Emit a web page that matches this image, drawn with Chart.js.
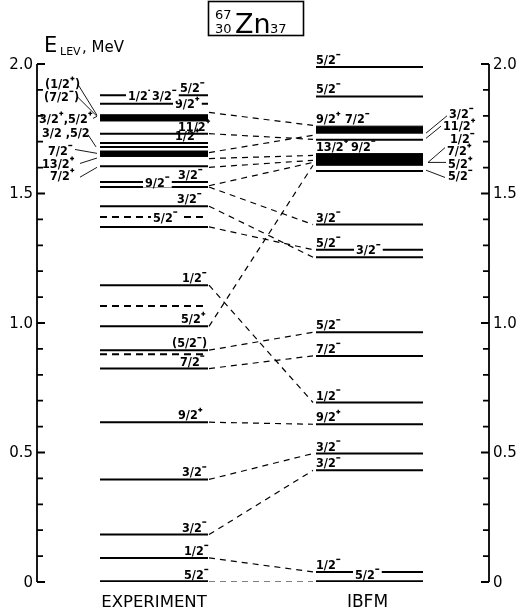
<!DOCTYPE html>
<html>
<head>
<meta charset="utf-8">
<script src="https://cdn.jsdelivr.net/npm/chart.js@4/dist/chart.umd.min.js"></script>
<style>
  html,body{margin:0;padding:0;background:#fff;}
  canvas{display:block;}
</style>
</head>
<body>
<canvas id="levels" width="524" height="613"></canvas>
<script>
/* ---------- level energies (MeV) ---------- */
const EXP_LEVELS   = [0, 0.093, 0.183, 0.396, 0.617, 0.824, 0.895, 0.987, 1.146, 1.371, 1.451, 1.525, 1.544, 1.605, 1.680, 1.695, 1.731, 1.847, 1.879];
const EXP_DASHED   = [0.879, 1.066, 1.409];
const EXP_BANDS    = [[1.780, 1.804]];
const EXP_DOTBANDS = [[1.643, 1.664]];

const IBFM_LEVELS  = [0, 0.039, 0.431, 0.496, 0.609, 0.693, 0.873, 0.964, 1.254, 1.283, 1.380, 1.587, 1.708, 1.875, 1.988];
const IBFM_BANDS   = [[1.609, 1.654], [1.733, 1.760]];

/* experiment -> IBFM correspondences [E exp, E ibfm] */
const LINKS = [
  [0, 0], [0.093, 0.039], [0.183, 0.431], [0.396, 0.496], [0.617, 0.609],
  [0.824, 0.873], [0.895, 0.964], [0.987, 1.609], [1.146, 0.693],
  [1.371, 1.283], [1.451, 1.254], [1.525, 1.380], [1.530, 1.620],
  [1.601, 1.628], [1.635, 1.647], [1.658, 1.725], [1.731, 1.709], [1.813, 1.763]
];

/* spin labels: [text, column, x offset in column, energy, inline?] */
const EXP_LABELS = [
  ["5/2-", 0, 84, 0], ["1/2-", 0, 84, 0.093], ["3/2-", 0, 82, 0.183], ["3/2-", 0, 82, 0.396],
  ["9/2+", 0, 78, 0.617], ["7/2-", 0, 80, 0.824], ["(5/2-)", 0, 72, 0.895], ["5/2+", 0, 81, 0.987],
  ["1/2-", 0, 82, 1.146], ["5/2-", 0, 53, 1.409, true], ["3/2-", 0, 77, 1.451],
  ["9/2-", 0, 45, 1.544, true], ["3/2-", 0, 78, 1.544], ["1/2+", 0, 75, 1.695],
  ["11/2+", 0, 78, 1.731], ["9/2+", 0, 75, 1.847, true],
  ["1/2-", 0, 28, 1.879, true], ["3/2-", 0, 52, 1.879, true], ["5/2-", 0, 80, 1.879]
];
const IBFM_LABELS = [
  ["5/2-", 1, 39, 0.03, true], ["1/2-", 1, 0, 0.039], ["3/2-", 1, 0, 0.431], ["3/2-", 1, 0, 0.496],
  ["9/2+", 1, 0, 0.609], ["1/2-", 1, 0, 0.693], ["7/2-", 1, 0, 0.873], ["5/2-", 1, 0, 0.964],
  ["5/2-", 1, 0, 1.283], ["3/2-", 1, 40, 1.283, true], ["3/2-", 1, 0, 1.380],
  ["13/2+", 1, 0, 1.654], ["9/2-", 1, 35, 1.654], ["9/2+", 1, 0, 1.760], ["7/2-", 1, 29, 1.760],
  ["5/2-", 1, 0, 1.875], ["5/2-", 1, 0, 1.988]
];

/* side labels: [text, x, energy of text centre] and leader lines [x1,E1,x2,E2] */
const LEFT_TAGS = [
  ["(1/2+)", 8, 1.925], ["(7/2-)", 7, 1.875], ["3/2+,5/2+", 2, 1.790],
  ["3/2 ,5/2", 5, 1.736], ["7/2-", 11, 1.666], ["13/2+", 5, 1.616], ["7/2+", 13, 1.570]
];
const LEFT_LEADERS = [
  [41, 1.921, 60, 1.802], [41, 1.871, 60, 1.798], [56, 1.790, 60, 1.798],
  [51, 1.727, 59, 1.680], [38, 1.670, 60, 1.655], [43, 1.616, 60, 1.637], [43, 1.563, 60, 1.601]
];
const RIGHT_TAGS = [
  ["3/2-", 412, 1.809], ["11/2+", 406, 1.763], ["1/2-", 413, 1.712],
  ["7/2+", 410, 1.666], ["5/2+", 411, 1.616], ["5/2-", 411, 1.570]
];
const RIGHT_LEADERS = [
  [410, 1.800, 389, 1.733], [404, 1.760, 389, 1.713], [408, 1.677, 391, 1.620],
  [409, 1.620, 391, 1.620], [408, 1.562, 389, 1.590]
];

const MAJOR_TICKS  = [0, 0.5, 1.0, 1.5, 2.0];
const MAJOR_LABELS = ["0", "0.5", "1.0", "1.5", "2.0"];

/* columns in x units (pixels from the left axis) */
const EXP_COL  = [63, 171];
const IBFM_COL = [279, 386];
const LINK_X   = [172, 276];

/* ---------- datasets ---------- */
const ds = [];
const seg = (x0, x1, e0, e1, extra) => Object.assign({
  data: [{x: x0, y: e0}, {x: x1, y: e1}],
  borderColor: "#000", borderWidth: 2, pointRadius: 0, fill: false, tension: 0
}, extra || {});

EXP_LEVELS.forEach(e => ds.push(seg(EXP_COL[0], EXP_COL[1], e, e, {borderWidth: e === 0 ? 3.5 : 2})));
EXP_DASHED.forEach(e => ds.push(seg(EXP_COL[0], EXP_COL[1], e, e, {borderDash: [7, 5]})));
IBFM_LEVELS.forEach(e => ds.push(seg(IBFM_COL[0], IBFM_COL[1], e, e, {borderWidth: e === 0 ? 3.5 : 2})));

function band(col, lo, hi){
  ds.push(seg(col[0], col[1], lo, lo, {borderWidth: 1}));
  ds.push(seg(col[0], col[1], hi, hi, {borderWidth: 1, fill: "-1", backgroundColor: "#000"}));
}
EXP_BANDS.forEach(b => band(EXP_COL, b[0], b[1]));
IBFM_BANDS.forEach(b => band(IBFM_COL, b[0], b[1]));
EXP_DOTBANDS.forEach(b => {
  band(EXP_COL, b[0], b[1]);
  const m = (b[0] + b[1]) / 2;
  ds.push(seg(EXP_COL[0] + 3, EXP_COL[1], m, m, {borderColor: "#fff", borderWidth: 2.5, borderDash: [2.5, 8]}));
});

LINKS.forEach(l => ds.push(seg(LINK_X[0], LINK_X[1], l[0], l[1], {borderWidth: 1.2, borderDash: [6, 5]})));
LEFT_LEADERS.concat(RIGHT_LEADERS).forEach(l => ds.push(seg(l[0], l[2], l[1], l[3], {borderWidth: 0.9})));

/* ---------- text helpers ---------- */
const LBL_SIZE = 12.5;
const LBL_FONT = "bold " + LBL_SIZE + "px 'DejaVu Sans Condensed', 'DejaVu Sans', sans-serif";
const SIGN_W = 5;

function spinWidth(ctx, s){
  ctx.font = LBL_FONT;
  let w = 0;
  for(const ch of s) w += (ch === "+" || ch === "-") ? SIGN_W : ctx.measureText(ch).width;
  return w;
}
function drawSpin(ctx, s, x, base, inline){
  const w = spinWidth(ctx, s);
  if(inline){
    ctx.fillStyle = "#fff";
    ctx.fillRect(x - 2, base - 11, w + 4, 12);
  }
  ctx.fillStyle = "#000";
  ctx.strokeStyle = "#000";
  ctx.lineWidth = 1.4;
  ctx.textAlign = "left";
  ctx.textBaseline = "alphabetic";
  ctx.font = LBL_FONT;
  let cx = x;
  for(const ch of s){
    if(ch === "+" || ch === "-"){
      const sy = base - 9.5, sx = cx + 0.5;
      ctx.beginPath();
      ctx.moveTo(sx, sy); ctx.lineTo(sx + 4, sy);
      if(ch === "+"){ ctx.moveTo(sx + 2, sy - 2); ctx.lineTo(sx + 2, sy + 2); }
      ctx.stroke();
      cx += SIGN_W;
    } else {
      ctx.fillText(ch, cx, base);
      cx += ctx.measureText(ch).width;
    }
  }
}

const decorations = {
  id: "decorations",
  beforeDraw(chart){
    const ctx = chart.ctx;
    ctx.save();
    ctx.fillStyle = "#fff";
    ctx.fillRect(0, 0, chart.width, chart.height);
    ctx.restore();
  },
  afterDatasetsDraw(chart){
    const ctx = chart.ctx, xs = chart.scales.x, ys = chart.scales.y;
    const px = u => xs.getPixelForValue(u), py = e => ys.getPixelForValue(e);
    ctx.save();

    /* axes */
    const xl = px(0), xr = px(452), yt = py(2.0), yb = py(0);
    ctx.strokeStyle = "#000";
    ctx.lineWidth = 1.8;
    ctx.beginPath();
    ctx.moveTo(xl, yt); ctx.lineTo(xl, yb);
    ctx.moveTo(xr, yt); ctx.lineTo(xr, yb);
    for(let i = 0; i <= 20; i++){
      const y = py(i / 10);
      const len = (i % 5 === 0) ? 8 : 6;
      ctx.moveTo(xl, y); ctx.lineTo(xl + len, y);
      ctx.moveTo(xr, y); ctx.lineTo(xr - len, y);
    }
    ctx.stroke();

    ctx.fillStyle = "#000";
    ctx.font = "15px 'DejaVu Sans', sans-serif";
    ctx.textBaseline = "middle";
    MAJOR_TICKS.forEach((v, i) => {
      ctx.textAlign = "right";
      ctx.fillText(MAJOR_LABELS[i], xl - 4, py(v) + 1);
      ctx.textAlign = "left";
      ctx.fillText(MAJOR_LABELS[i], xr + 4, py(v) + 1);
    });

    /* spin labels on levels */
    EXP_LABELS.concat(IBFM_LABELS).forEach(l => {
      const col = l[1] === 0 ? EXP_COL : IBFM_COL;
      const x = px(col[0] + l[2]);
      const base = l[4] ? py(l[3]) + 4.5 : py(l[3]) - 3;
      drawSpin(ctx, l[0], x, base, !!l[4]);
    });
    LEFT_TAGS.concat(RIGHT_TAGS).forEach(t => drawSpin(ctx, t[0], px(t[1]), py(t[2]) + 4.5, false));

    /* axis title */
    ctx.fillStyle = "#000";
    ctx.textAlign = "left";
    ctx.textBaseline = "alphabetic";
    ctx.font = "21px 'DejaVu Sans', sans-serif";
    ctx.fillText("E", 44, 52);
    ctx.font = "11px 'DejaVu Sans', sans-serif";
    ctx.fillText("LEV", 60, 55);
    ctx.font = "15px 'DejaVu Sans', sans-serif";
    ctx.fillText(", MeV", 82, 52);

    /* nucleus box */
    ctx.lineWidth = 1.6;
    ctx.strokeRect(208.5, 1.5, 95, 34);
    ctx.font = "13px 'DejaVu Sans', sans-serif";
    ctx.fillText("67", 215, 19);
    ctx.fillText("30", 215, 33);
    ctx.font = "27px 'DejaVu Sans', sans-serif";
    ctx.fillText("Zn", 235, 33);
    ctx.font = "13px 'DejaVu Sans', sans-serif";
    ctx.fillText("37", 270, 33);

    /* column titles */
    ctx.font = "16.5px 'DejaVu Sans', sans-serif";
    ctx.textAlign = "center";
    ctx.fillText("EXPERIMENT", px((EXP_COL[0] + EXP_COL[1]) / 2), 607);
    ctx.font = "17px 'DejaVu Sans', sans-serif";
    ctx.fillText("IBFM", px((IBFM_COL[0] + IBFM_COL[1]) / 2 - 2), 607);
    ctx.restore();
  }
};

new Chart(document.getElementById("levels"), {
  type: "line",
  data: {datasets: ds},
  options: {
    responsive: false,
    animation: false,
    layout: {padding: {left: 37, right: 35, top: 64, bottom: 31}},
    plugins: {legend: {display: false}, tooltip: {enabled: false}},
    scales: {
      x: {type: "linear", min: 0, max: 452, display: false},
      y: {type: "linear", min: 0, max: 2.0, display: false}
    }
  },
  plugins: [decorations]
});
</script>
</body>
</html>
